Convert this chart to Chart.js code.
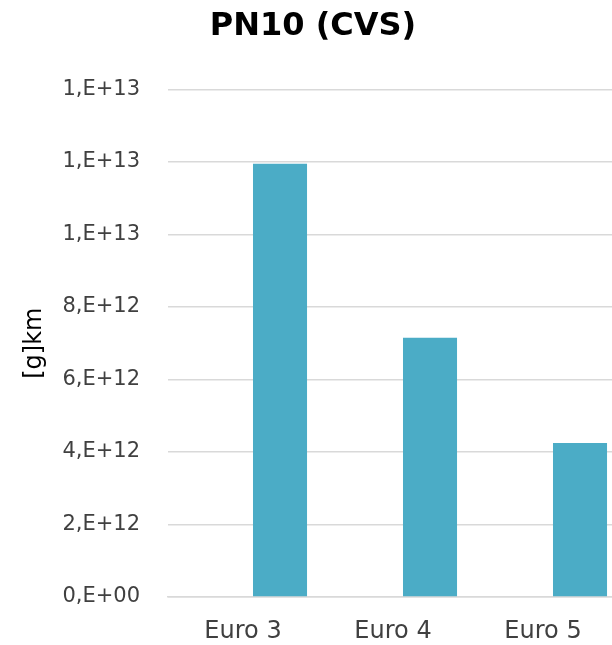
<!DOCTYPE html>
<html>
<head>
<meta charset="utf-8">
<script src="https://cdn.jsdelivr.net/npm/chart.js@4"></script>
<style>
  html, body { margin: 0; padding: 0; background: #fff; overflow: hidden; }
  #wrap { width: 630px; height: 645px; overflow: hidden; }
  canvas { display: block; }
</style>
</head>
<body>
<div id="wrap"><canvas id="pnChart" width="630" height="645"></canvas></div>
<script>
/* dados do grafico PN10 (CVS) */
const categorias = ['Euro 3', 'Euro 4', 'Euro 5'];
const serieVazia = [null, null, null];
const seriePN10 = [1.195e13, 7.15e12, 4.25e12];
const eixoY = { min: 0, max: 1.4e13, passo: 2e12 };

const fonte = '"DejaVu Sans", sans-serif';

// formato do excel "0,E+00"
function formatoExcel(v) {
  if (v === 0) return '0,E+00';
  const e = Math.floor(Math.log10(Math.abs(v)) + 1e-9);
  const m = Math.round(v / Math.pow(10, e));
  return m + ',E+' + String(e).padStart(2, '0');
}

const dataBarras = {
  labels: categorias,
  datasets: [{
    label: 'vazio',
    data: serieVazia,
    backgroundColor: 'rgba(0,0,0,0)'
  }, {
    label: 'PN10',
    data: seriePN10,
    backgroundColor: '#4BACC6'
  }]
};

const config = {
  type: 'bar',
  data: dataBarras,
  options: {
    responsive: false,
    animation: false,
    categoryPercentage: 0.987,
    barPercentage: 0.73,
    layout: { padding: { left: 8, right: 12, top: 3, bottom: 0 } },
    plugins: {
      legend: { display: false },
      tooltip: { enabled: false },
      title: {
        display: true,
        text: 'PN10 (CVS)',
        color: '#000',
        font: { family: fonte, size: 32, weight: 'bold' },
        padding: { top: 4, bottom: 44 }
      }
    },
    scales: {
      x: {
        afterFit: function (scale) { scale.height = 48; },
        grid: { display: false, drawTicks: false },
        border: { display: true, color: '#d9d9d9', width: 1.5 },
        ticks: { color: '#404040', font: { family: fonte, size: 24 }, padding: 20 }
      },
      y: {
        min: eixoY.min,
        max: eixoY.max,
        afterFit: function (scale) { scale.width = 160; },
        grid: { color: '#d9d9d9', lineWidth: 1.5, drawTicks: false },
        border: { display: false },
        ticks: {
          stepSize: eixoY.passo,
          color: '#404040',
          font: { family: fonte, size: 21 },
          padding: 28,
          callback: function (v) { return formatoExcel(v); }
        },
        title: {
          display: true,
          text: '[g]km',
          color: '#000',
          font: { family: fonte, size: 24 },
          padding: { top: 12, bottom: 0 }
        }
      }
    }
  }
};

const meuGrafico = new Chart(document.getElementById('pnChart'), config);
</script>
</body>
</html>
